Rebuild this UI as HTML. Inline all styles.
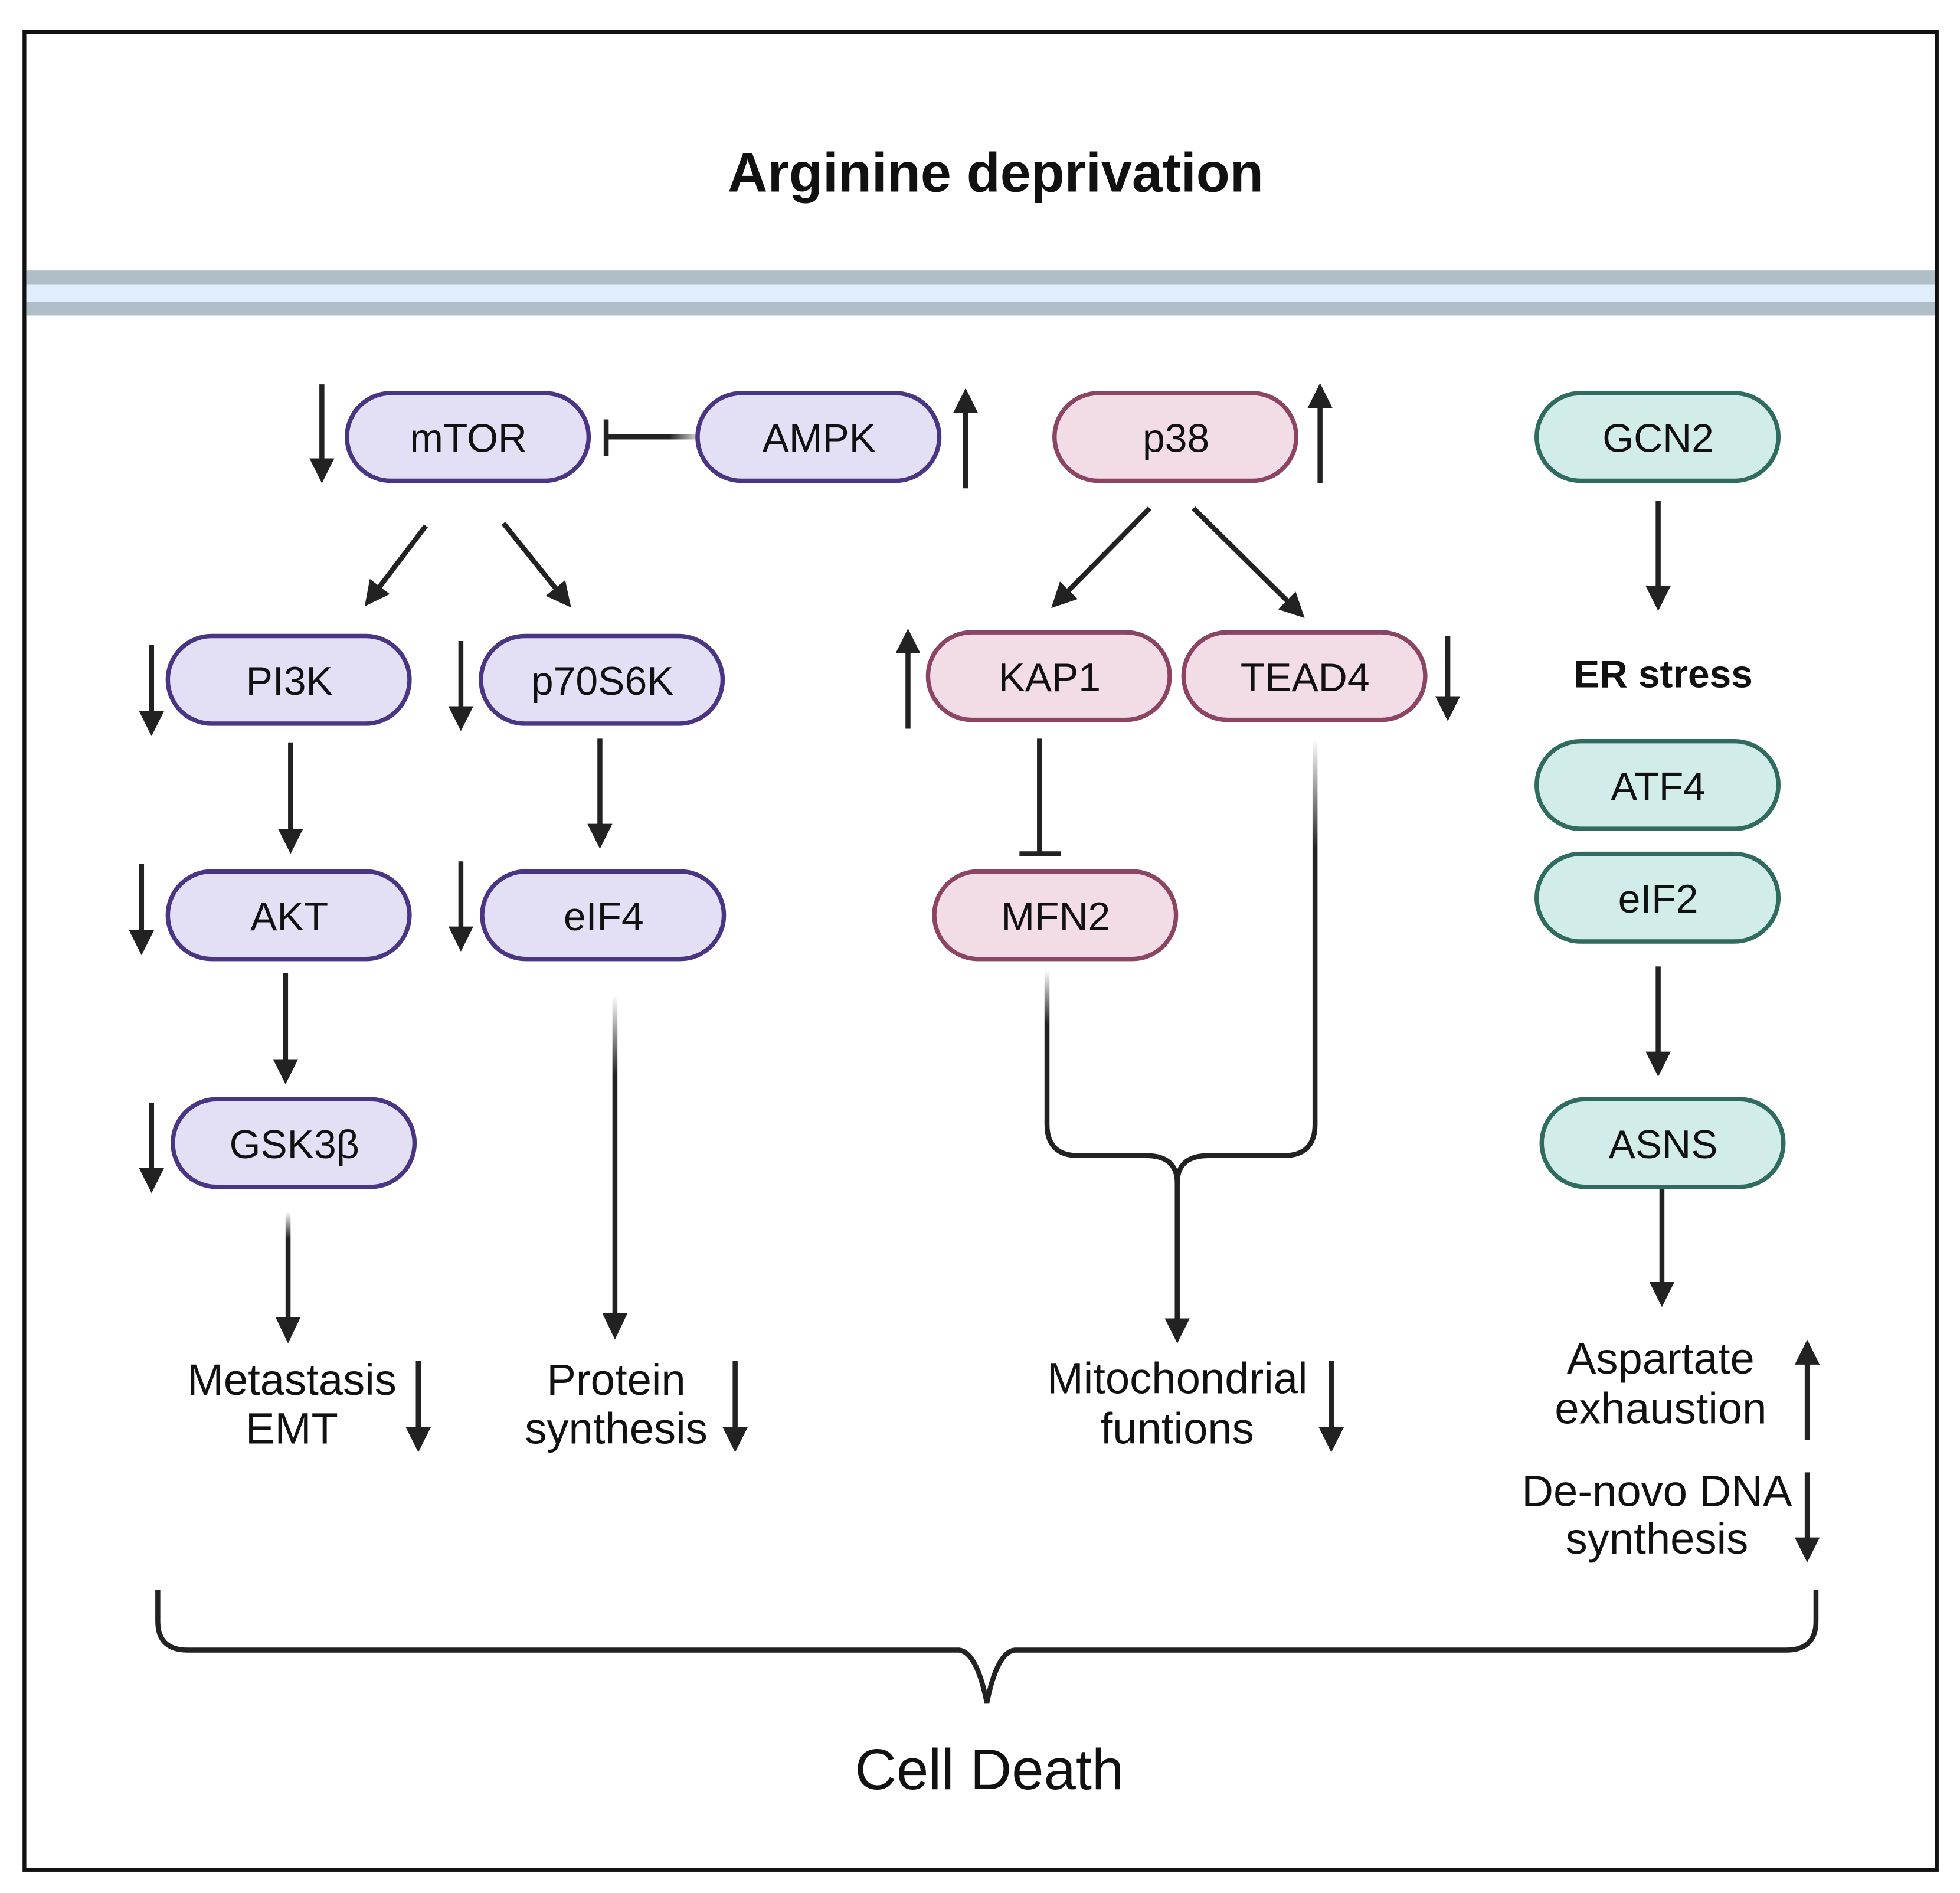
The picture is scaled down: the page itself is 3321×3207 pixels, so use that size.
<!DOCTYPE html>
<html><head><meta charset="utf-8"><style>html,body{margin:0;padding:0;background:#fff}svg{display:block}text{font-family:"Liberation Sans",sans-serif}</style></head>
<body>
<svg width="3321" height="3207" viewBox="0 0 1565 1512" preserveAspectRatio="none" xmlns="http://www.w3.org/2000/svg">
<defs>
<marker id="a" markerWidth="5" markerHeight="5" refX="3" refY="2.5" orient="auto" markerUnits="strokeWidth"><path d="M0,0 L5,2.5 L0,5 Z" fill="#222"/></marker>
<linearGradient id="gv" x1="0" y1="0" x2="0" y2="1"><stop offset="0" stop-color="#222" stop-opacity="0"/><stop offset="0.25" stop-color="#222"/><stop offset="1" stop-color="#222"/></linearGradient>
<linearGradient id="gh" x1="0" y1="0" x2="1" y2="0"><stop offset="0" stop-color="#222"/><stop offset="0.7" stop-color="#222"/><stop offset="1" stop-color="#222" stop-opacity="0.2"/></linearGradient>
</defs>
<rect x="0" y="0" width="1565" height="1512" fill="#fff"/>
<rect x="19.5" y="25.5" width="1527" height="1468" fill="none" stroke="#111" stroke-width="3"/>
<text x="795" y="153" font-size="44" font-weight="bold" text-anchor="middle" fill="#111">Arginine deprivation</text>
<rect x="21" y="216" width="1524" height="36" fill="#b0bec8"/>
<rect x="21" y="227" width="1524" height="14" fill="#dfeefa"/>
<g font-size="32" text-anchor="middle" fill="#111">
<g fill="#e3dff5" stroke="#4a3583" stroke-width="3.5">
<rect x="277" y="314" width="193" height="70" rx="35"/>
<rect x="557" y="314" width="193" height="70" rx="35"/>
<rect x="134" y="508" width="193" height="70" rx="35"/>
<rect x="384" y="508" width="193" height="70" rx="35"/>
<rect x="134" y="696" width="193" height="70" rx="35"/>
<rect x="385" y="696" width="193" height="70" rx="35"/>
<rect x="138" y="878" width="193" height="70" rx="35"/>
</g>
<g fill="#f2dde6" stroke="#8b4563" stroke-width="3.5">
<rect x="842" y="314" width="193" height="70" rx="35"/>
<rect x="741" y="505" width="193" height="70" rx="35"/>
<rect x="945" y="505" width="193" height="70" rx="35"/>
<rect x="746" y="696" width="193" height="70" rx="35"/>
</g>
<g fill="#d2ece9" stroke="#2f6b5f" stroke-width="3.5">
<rect x="1227" y="314" width="193" height="70" rx="35"/>
<rect x="1227" y="592" width="193" height="70" rx="35"/>
<rect x="1227" y="682" width="193" height="70" rx="35"/>
<rect x="1231" y="878" width="193" height="70" rx="35"/>
</g>
<text x="374" y="361">mTOR</text>
<text x="654" y="361">AMPK</text>
<text x="231" y="555">PI3K</text>
<text x="481" y="555">p70S6K</text>
<text x="231" y="743">AKT</text>
<text x="482" y="743">eIF4</text>
<text x="235" y="925">GSK3β</text>
<text x="939" y="361">p38</text>
<text x="838" y="552">KAP1</text>
<text x="1042" y="552">TEAD4</text>
<text x="843" y="743">MFN2</text>
<text x="1324" y="361">GCN2</text>
<text x="1324" y="639">ATF4</text>
<text x="1324" y="729">eIF2</text>
<text x="1328" y="925">ASNS</text>
<g font-size="35">
<text x="233" y="1114">Metastasis</text>
<text x="233" y="1153">EMT</text>
<text x="492" y="1114">Protein</text>
<text x="492" y="1153">synthesis</text>
<text x="940" y="1113">Mitochondrial</text>
<text x="940" y="1153">funtions</text>
<text x="1326" y="1097">Aspartate</text>
<text x="1326" y="1137">exhaustion</text>
<text x="1323" y="1203">De-novo DNA</text>
<text x="1323" y="1241">synthesis</text>
</g>
<text x="1328" y="549" font-weight="bold" font-size="31">ER stress</text>
<text x="790" y="1429" font-size="46">Cell Death</text>
</g>
<g stroke="#222" stroke-width="4" fill="none" marker-end="url(#a)">
<line x1="257" y1="307" x2="257" y2="378"/>
<line x1="771" y1="390" x2="771" y2="318"/>
<line x1="1054" y1="386" x2="1054" y2="314"/>
<line x1="121" y1="515" x2="121" y2="580"/>
<line x1="368" y1="512" x2="368" y2="576"/>
<line x1="725" y1="582" x2="725" y2="510"/>
<line x1="1156" y1="508" x2="1156" y2="568"/>
<line x1="113" y1="690" x2="113" y2="755"/>
<line x1="368" y1="688" x2="368" y2="752"/>
<line x1="121" y1="881" x2="121" y2="945"/>
<line x1="334" y1="1087" x2="334" y2="1152"/>
<line x1="587" y1="1087" x2="587" y2="1152"/>
<line x1="1063" y1="1087" x2="1063" y2="1152"/>
<line x1="1443" y1="1150" x2="1443" y2="1078"/>
<line x1="1443" y1="1176" x2="1443" y2="1240"/>
<line x1="340" y1="420" x2="296" y2="478"/>
<line x1="402" y1="418" x2="451" y2="479"/>
<line x1="918" y1="406" x2="845" y2="480"/>
<line x1="953" y1="406" x2="1036" y2="488"/>
<line x1="232" y1="593" x2="232" y2="674"/>
<line x1="479" y1="590" x2="479" y2="670"/>
<line x1="228" y1="777" x2="228" y2="858"/>
<line x1="1324" y1="400" x2="1324" y2="480"/>
<line x1="1324" y1="772" x2="1324" y2="852"/>
<line x1="1327" y1="950" x2="1327" y2="1036"/>
<line x1="940" y1="940" x2="940" y2="1065"/>
</g>
<rect x="228" y="968" width="4" height="85" fill="url(#gv)"/>
<polygon points="220,1052 240,1052 230,1073" fill="#222"/>
<rect x="489" y="795" width="4" height="255" fill="url(#gv)"/>
<polygon points="481,1049 501,1049 491,1070" fill="#222"/>
<g stroke="#222" stroke-width="4" fill="none">
<line x1="830" y1="590" x2="830" y2="682"/>
<line x1="814" y1="682" x2="847" y2="682"/>
<line x1="484" y1="335" x2="484" y2="364"/>
<path d="M836,775 L836,898 Q836,923 861,923 L915,923 Q940,923 940,945" stroke="url(#gv)"/>
<path d="M1050,590 L1050,898 Q1050,923 1025,923 L965,923 Q940,923 940,945" stroke="url(#gv)"/>
<path d="M126,1270 L126,1295 Q126,1318 150,1318 L766,1318 Q780,1320 788,1360 Q796,1320 810,1318 L1426,1318 Q1450,1318 1450,1295 L1450,1270"/>
</g>
<rect x="484" y="347" width="72" height="4" fill="url(#gh)"/>
</svg>
</body></html>
